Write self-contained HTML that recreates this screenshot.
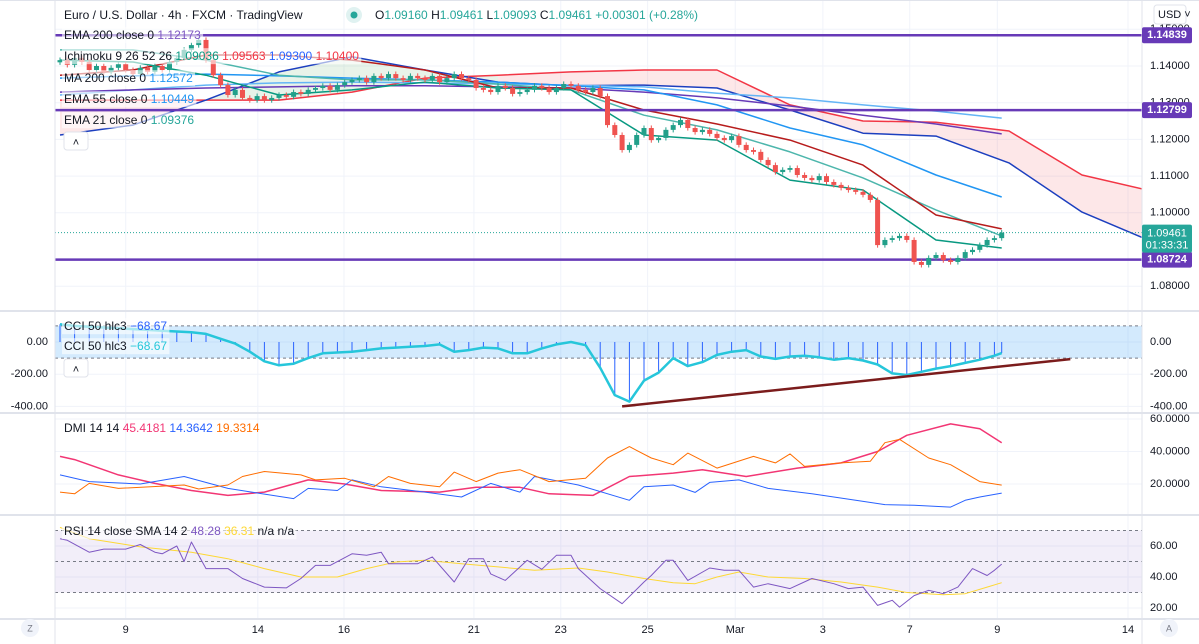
<!DOCTYPE html>
<html><head><meta charset="utf-8"><style>
body{margin:0;background:#fff;font-family:"Liberation Sans",sans-serif;}
svg{display:block}
text{font-family:"Liberation Sans",sans-serif;}
</style></head><body>
<svg id="c" width="1199" height="644" viewBox="0 0 1199 644" xmlns="http://www.w3.org/2000/svg">
<defs><clipPath id="mainClip"><rect x="55" y="0" width="1087" height="311"/></clipPath>
<clipPath id="paneClip"><rect x="55" y="0" width="1087" height="620"/></clipPath></defs>
<g id="grid"></g>
<g id="main" clip-path="url(#mainClip)"></g>
<g id="ind" clip-path="url(#paneClip)"></g>
<g id="axes"></g>
<g id="legend"></g>
</svg>
<script>
// ---- data ----
const dayLabels=["9","14","16","21","23","25","Mar","3","7","9","14"];
const dayBars=[9,27.1,38.9,56.7,68.6,80.5,92.5,104.5,116.4,128.4,146.3];
const closes=[1.1416,1.1403,1.1422,1.1411,1.1389,1.1400,1.1384,1.1395,1.1405,1.1389,1.1378,1.1395,1.1384,1.1400,1.1389,1.1411,1.1422,1.1444,
1.1457,1.1471,1.1416,
1.1375,1.1348,1.1321,1.1335,1.1313,1.1307,1.1318,
1.1307,1.1313,1.1321,1.1316,1.1329,1.1324,1.1335,1.1340,1.1346,1.1335,1.1348,
1.1356,1.1362,1.1367,1.1356,1.1373,1.1367,1.1378,1.1367,1.1362,1.1373,1.1367,1.1362,1.1373,1.1356,1.1367,1.1378,1.1367,1.1362,1.1340,
1.1335,1.1329,1.1346,1.1340,1.1324,1.1329,1.1335,1.1346,1.1340,1.1329,1.1340,1.1351,1.1346,1.1335,1.1329,1.1340,1.1318,
1.1239,1.1212,1.1171,1.1185,1.1212,1.1231,1.1198,1.1204,
1.1226,1.1239,1.1253,1.1231,1.1220,1.1226,1.1215,1.1204,1.1198,1.1209,
1.1185,1.1171,1.1166,1.1144,1.1130,1.1111,1.1117,1.1122,1.1103,1.1095,1.1089,1.1100,1.1084,1.1076,1.1068,1.1062,1.1057,1.1049,
1.1035,1.0912,1.0926,1.0931,1.0937,1.0926,
1.0866,1.0858,1.0877,1.0885,1.0871,1.0866,1.0877,1.0893,1.0899,1.0912,1.0926,1.0931,1.0946];
const lineStep=10;
const ema200=[1.1329,1.1335,1.1340,1.1343,1.1346,1.1346,1.1343,1.1340,1.1329,1.1313,1.1291,1.1266,1.1242,1.1215];
const ma200=[1.1321,1.1335,1.1348,1.1354,1.1356,1.1354,1.1351,1.1348,1.1343,1.1326,1.1313,1.1294,1.1277,1.1258];
const ema55=[1.1367,1.1373,1.1378,1.1373,1.1367,1.1362,1.1356,1.1346,1.1335,1.1294,1.1231,1.1185,1.1103,1.1043];
const ema21=[1.1444,1.1444,1.1416,1.1375,1.1362,1.1362,1.1351,1.1335,1.1266,1.1226,1.1166,1.1095,1.1008,1.0937];
const tenkan=[1.1416,1.1411,1.1375,1.1321,1.1335,1.1356,1.1340,1.1335,1.1212,1.1198,1.1089,1.1062,1.0926,1.0904];
const kijun=[1.1375,1.1389,1.1430,1.1430,1.1416,1.1389,1.1340,1.1340,1.1280,1.1242,1.1198,1.1130,1.0994,1.0956];
const spanBlue=[1.1212,1.1239,1.1307,1.1384,1.1425,1.1389,1.1356,1.1346,1.1348,1.1340,1.1280,1.1217,1.1209,1.1136,1.1002,1.0918];
const spanRed=[1.1307,1.1307,1.1307,1.1307,1.1329,1.1367,1.1375,1.1384,1.1389,1.1389,1.1294,1.1250,1.1247,1.1223,1.1103,1.1057];
const hLevels=[1.14839,1.12799,1.08724];
const lastPrice=1.09461;
const priceTicks=[1.15,1.14,1.13,1.12,1.11,1.10,1.08];
const cciStep=2;
const cci=[110,100,95,90,85,80,75,70,65,60,50,20,-10,-60,-120,-145,-135,-100,-70,-65,-60,-50,-40,-35,-30,-25,-15,-60,-50,-35,-40,-70,-70,-40,-15,0,-20,-160,-330,-370,-240,-190,-100,-150,-125,-80,-60,-50,-90,-105,-90,-85,-95,-110,-100,-115,-140,-195,-205,-185,-165,-150,-130,-110,-85,-69];
const cciTrendBars=[77,138.4];
const cciTrendVals=[-400,-106];
const cciTicks=[0,-200,-400];
const adxBars=[0,2,8,13,18,23,28,34,39,44,52,57,63,67,73,78,84,88,94,101,107,112,116,122,126,129];
const adxVals=[37,35,25.6,20.4,16,13,15,22.5,20,16,15,18,18,14,13,24.6,26.7,28.8,24.6,29.8,33,40,50,57,54,45.4];
const diPlusBars=[0,4,11,17,23,32,34,38,40,44,50,55,59,63,65,71,78,80,84,87,89,93,97,103,109,113,117,122,124,126,129];
const diPlusVals=[25.6,21.5,20,24.6,17.3,11,17.3,16,22.5,18.3,15,12,20.4,15,24.6,19.4,10,18.3,19.4,14.8,21,22.5,17.3,14,10,7.3,6.9,5.8,10,12,14.4];
const diMinusBars=[0,2,4,8,17,19,23,25,28,33,35,39,43,45,48,52,54,57,60,63,67,72,75,78,81,84,86,90,95,98,100,102,107,111,113,115,119,122,126,129];
const diMinusVals=[15,14,20.4,17.3,19.4,16.9,19.4,24.6,27.7,25.6,22.5,23.5,18.3,24.6,20.4,18.3,27.3,21.5,26.7,28.8,21.5,23.5,36,43,36,31.9,39,29.8,37,33,38.5,30.8,33,34,45.4,47.5,36,31.9,21.5,19.3];
const dmiTicks=[60,40,20];
const rsiBars=[0,1,4,6,9,11,13,14,16,17,18,20,23,25,28,31,33,35,37,40,42,44,45,49,51,54,56,58,59,61,64,66,68,70,71,74,77,80,81,83,84,86,89,91,93,95,97,100,103,106,108,110,112,114,115,117,119,121,123,125,127,128,129];
const rsiVals=[64.7,63.7,56,58,58,61,56,55,60,50,62.6,45.4,45.4,39,33.5,33,39,47.5,47.5,55,54,56,48.6,48.6,53,36.8,51.8,51.8,42,37.8,50.8,45,54,54,45.4,32.5,22.8,36.8,41,50.8,50.8,37.8,45.8,44.3,44.3,33.5,35.7,32.5,39,35.7,32.5,33.5,21.7,25,20.6,28,31.4,29.2,33.5,45.4,41,44.3,48.3];
const smaBars=[0,4,11,18,23,28,33,38,42,46,50,55,60,65,71,75,80,84,87,90,93,97,102,107,112,116,121,124,127,129];
const smaVals=[72,64.7,59.4,56,51.8,45.4,40,40,45.4,49.7,50.8,48.6,46.5,44.3,45.8,43.2,39,36.3,35.7,40,43.2,40,39,36.8,33.5,30,28.6,29.2,33.5,36.3];
const rsiTicks=[60,40,20];

// ---- scales ----
const xb=i=>60+7.3*i;
const yP=p=>66+(1.14-p)*3670;
const yC=v=>342-v*0.161;
const yD=v=>419+(60-v)*1.625;
const yR=v=>546+(60-v)*1.55;
const NS="http://www.w3.org/2000/svg";
function mk(tag,attrs,parent,txt){const e=document.createElementNS(NS,tag);for(const k in attrs)e.setAttribute(k,attrs[k]);if(txt!==undefined)e.textContent=txt;parent.appendChild(e);return e;}
const G=id=>document.getElementById(id);
const grid=G('grid'),main=G('main'),ind=G('ind'),axes=G('axes'),leg=G('legend');

dayBars.forEach((b,k)=>{const l=mk('line',{x1:xb(b),x2:xb(b),y1:0,y2:620,stroke:'#f0f3fa'},grid);

});
priceTicks.forEach(p=>{const l=mk('line',{x1:55,x2:1142,y1:yP(p),y2:yP(p),stroke:'#f0f3fa'},grid);

});
[[cciTicks,yC],[dmiTicks,yD],[rsiTicks,yR]].forEach(([t,f])=>t.forEach(v=>{mk('line',{x1:55,x2:1142,y1:f(v),y2:f(v),stroke:'#f0f3fa'},grid);}));
[311,413,515,619].forEach(y=>{const l=mk('line',{x1:0,x2:1199,y1:y,y2:y,stroke:'#e0e3eb','stroke-width':2},axes);

});
mk('line',{x1:55,x2:55,y1:0,y2:644,stroke:'#e0e3eb'},axes);
mk('line',{x1:1142,x2:1142,y1:0,y2:644,stroke:'#e0e3eb'},axes);
mk('line',{x1:0,x2:1199,y1:0.5,y2:0.5,stroke:'#e0e3eb'},axes);

function path(bars,vals,f,parent,stroke,w,name){
  const d=vals.map((v,i)=>(i?'L':'M')+xb(bars[i]).toFixed(1)+' '+f(v).toFixed(1)).join(' ');
  const p=mk('path',{d,fill:'none',stroke,'stroke-width':w,'stroke-linejoin':'round'},parent);
  
  
  return p;}
const stepBars=(n,s,max)=>Array.from({length:n},(_,i)=>Math.min(i*s,max));

for(let j=0;j<spanBlue.length-1;j++){
  const a=j*lineStep,b=(j+1)*lineStep;
  const bull=(spanBlue[j]+spanBlue[j+1])>(spanRed[j]+spanRed[j+1]);
  const pts=[[xb(a),yP(spanBlue[j])],[xb(b),yP(spanBlue[j+1])],[xb(b),yP(spanRed[j+1])],[xb(a),yP(spanRed[j])]].map(p=>p.join(',')).join(' ');
  const pg=mk('polygon',{points:pts,fill:bull?'rgba(67,160,71,0.12)':'rgba(242,54,69,0.12)'},main);
  
  }
const cb=stepBars(spanBlue.length,lineStep,999);
path(cb,spanRed,yP,main,'#f23645',1.5,'senkou-span-red');
path(cb,spanBlue,yP,main,'#1c3fbf',1.5,'senkou-span-blue');
const lb=stepBars(ema200.length,lineStep,129);
path(lb,ma200,yP,main,'#64b5f6',1.5,'ma200-line');
path(lb,ema200,yP,main,'#673ab7',1.5,'ema200-line');
path(lb,ema55,yP,main,'#2196f3',1.5,'ema55-line');
path(lb,ema21,yP,main,'#4db6ac',1.5,'ema21-line');
path(lb,kijun,yP,main,'#b71c1c',1.5,'kijun-line');
path(lb,tenkan,yP,main,'#089981',1.5,'tenkan-line');

hLevels.forEach(p=>{const l=mk('line',{x1:55,x2:1142,y1:yP(p),y2:yP(p),stroke:'#673ab7','stroke-width':2.5},main);

});
mk('line',{x1:55,x2:1142,y1:yP(lastPrice),y2:yP(lastPrice),stroke:'#26a69a','stroke-dasharray':'1 2'},main);

closes.forEach((c,i)=>{
  const o=i?closes[i-1]:1.1410;const up=c>=o;const col=up?'#22a08a':'#ef5350';
  const hi=Math.max(o,c)+0.0007,lo=Math.min(o,c)-0.0007;const x=xb(i);
  const g=mk('g',{},main);
  
  
  mk('line',{x1:x,x2:x,y1:yP(hi),y2:yP(lo),stroke:col},g);
  const t=Math.min(yP(o),yP(c));mk('rect',{x:x-2.5,y:t,width:5,height:Math.max(1,Math.abs(yP(o)-yP(c))),fill:col},g);
});

mk('rect',{x:55,y:yC(100),width:1087,height:yC(-100)-yC(100),fill:'rgba(33,150,243,0.2)'},ind);
[100,-100].forEach(v=>mk('line',{x1:55,x2:1142,y1:yC(v),y2:yC(v),stroke:'#787b86','stroke-dasharray':'3 3'},ind));
const cb2=stepBars(cci.length,cciStep,129);
cci.forEach((v,i)=>{const l=mk('line',{x1:xb(cb2[i]),x2:xb(cb2[i]),y1:yC(0),y2:yC(v),stroke:'#2962ff'},ind);

});
path(cb2,cci,yC,ind,'#26c6da',2.5,'cci-line');
path(cciTrendBars,cciTrendVals,yC,ind,'#7b1c1c',2.5,'cci-trendline');

path(adxBars,adxVals,yD,ind,'#f23674',1.5,'adx-line');
path(diPlusBars,diPlusVals,yD,ind,'#2962ff',1,'di-plus-line');
path(diMinusBars,diMinusVals,yD,ind,'#ff6d00',1,'di-minus-line');

mk('rect',{x:55,y:yR(70),width:1087,height:yR(30)-yR(70),fill:'rgba(126,87,194,0.1)'},ind);
[70,50,30].forEach(v=>mk('line',{x1:55,x2:1142,y1:yR(v),y2:yR(v),stroke:'#787b86','stroke-dasharray':'3 3'},ind));
path(smaBars,smaVals,yR,ind,'#fdd835',1,'rsi-sma-line');
path(rsiBars,rsiVals,yR,ind,'#7e57c2',1,'rsi-line');

function t(x,y,s,opt,parent,name){const e=mk('text',Object.assign({x,y,'font-size':11,fill:'#131722','dominant-baseline':'middle'},opt||{}),parent||axes,s);

return e;}
priceTicks.forEach(p=>t(1150,yP(p),p.toFixed(5),{},axes,'price-tick'));
cciTicks.forEach(v=>{t(1150,yC(v),v.toFixed(2),{},axes,'cci-tick');t(48,yC(v),v.toFixed(2),{'text-anchor':'end'},axes,'cci-tick-left');});
dmiTicks.forEach(v=>t(1150,yD(v),v.toFixed(4),{},axes,'dmi-tick'));
rsiTicks.forEach(v=>t(1150,yR(v),v.toFixed(2),{},axes,'rsi-tick'));
dayLabels.forEach((s,k)=>t(xb(dayBars[k]),630,s,{'text-anchor':'middle'},axes,'time-tick'));
hLevels.forEach(p=>{const y=yP(p);const g=mk('g',{},axes);
 
 
 mk('rect',{x:1142,y:y-8,width:50,height:16,rx:2,fill:'#673ab7'},g);
 mk('text',{x:1167,y:y,'font-size':11,'font-weight':'bold',fill:'#fff','text-anchor':'middle','dominant-baseline':'middle'},g,p.toFixed(5));});
const cg=mk('g',{},axes);


mk('rect',{x:1142,y:yP(lastPrice)-8,width:50,height:28,rx:2,fill:'#26a69a'},cg);
mk('text',{x:1167,y:yP(lastPrice)+1,'font-size':11,fill:'#fff','text-anchor':'middle','dominant-baseline':'middle'},cg,lastPrice.toFixed(5));
mk('text',{x:1167,y:yP(lastPrice)+13,'font-size':11,fill:'#fff','text-anchor':'middle','dominant-baseline':'middle'},cg,'01:33:31');
const ub=mk('g',{},axes);
mk('rect',{x:1154,y:5,width:32,height:19,rx:3,fill:'#fff',stroke:'#e0e3eb'},ub);mk('text',{x:1158,y:15,'font-size':11,fill:'#131722','dominant-baseline':'middle'},ub,'USD ˅');
[[30,'Z','zoom-button'],[1169,'A','auto-scale-button']].forEach(([x,s,n])=>{const g=mk('g',{},axes);
 mk('circle',{cx:x,cy:628,r:9,fill:'#f0f3fa'},g);mk('text',{x,y:629,'font-size':9,fill:'#787b86','text-anchor':'middle','dominant-baseline':'middle'},g,s);});

function legend(y,parts,name,bg){const g=mk('g',{},leg);
 const e=mk('text',{x:64,y,'font-size':12,'dominant-baseline':'middle'},g);
 parts.forEach(([s,c])=>{mk('tspan',{fill:c},e,s+' ');});
 if(bg){const bb=e.getBBox();const r=mk('rect',{x:bb.x-2,y:bb.y-1,width:bb.width+4,height:bb.height+2,fill:'rgba(255,255,255,0.6)'},g);g.insertBefore(r,e);}}
legend(16,[['Euro / U.S. Dollar · 4h · FXCM · TradingView','#131722']],'chart-title');
const dot=mk('g',{},leg);
mk('circle',{cx:354,cy:15,r:8,fill:'#e0f2f1'},dot);mk('circle',{cx:354,cy:15,r:3.5,fill:'#26a69a'},dot);
const oh=mk('text',{x:375,y:16,'font-size':12,'dominant-baseline':'middle',fill:'#26a69a'},leg);

[['O','#131722'],['1.09160 ','#26a69a'],['H','#131722'],['1.09461 ','#26a69a'],['L','#131722'],['1.09093 ','#26a69a'],['C','#131722'],['1.09461 +0.00301 (+0.28%)','#26a69a']].forEach(([s,c])=>mk('tspan',{fill:c},oh,s));
legend(36,[['EMA 200 close 0','#131722'],['1.12173','#7e57c2']],'ema200-legend',1);
legend(57,[['Ichimoku 9 26 52 26','#131722'],['1.09036','#089981'],['1.09563','#f23645'],['1.09300','#2962ff'],['1.10400','#f23645']],'ichimoku-legend',1);
legend(79,[['MA 200 close 0','#131722'],['1.12572','#2196f3']],'ma200-legend',1);
legend(100,[['EMA 55 close 0','#131722'],['1.10449','#2196f3']],'ema55-legend',1);
legend(121,[['EMA 21 close 0','#131722'],['1.09376','#26a69a']],'ema21-legend',1);
legend(327,[['CCI 50 hlc3','#131722'],['−68.67','#2962ff']],'cci-legend',1);
legend(347,[['CCI 50 hlc3','#131722'],['−68.67','#26c6da']],'cci2-legend',1);
legend(429,[['DMI 14 14','#131722'],['45.4181','#f23674'],['14.3642','#2962ff'],['19.3314','#ff6d00']],'dmi-legend');
legend(532,[['RSI 14 close SMA 14 2','#131722'],['48.28','#7e57c2'],['36.31','#fdd835'],['n/a n/a','#131722']],'rsi-legend',1);
[[132],[359]].forEach(([y])=>{const g=mk('g',{},leg);
 mk('rect',{x:64,y,width:24,height:18,rx:3,fill:'#fff',stroke:'#e0e3eb'},g);mk('text',{x:76,y:y+11,'font-size':11,'text-anchor':'middle','dominant-baseline':'middle',fill:'#131722'},g,'˄');});
</script>
</body></html>
